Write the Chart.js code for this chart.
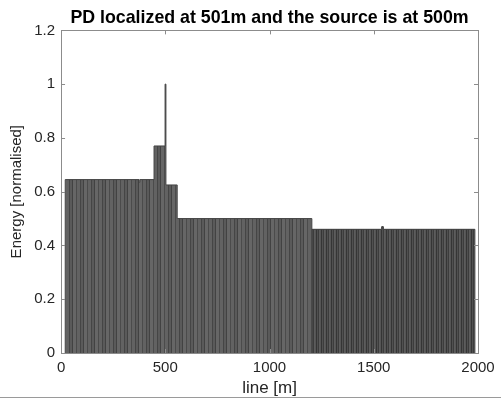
<!DOCTYPE html>
<html>
<head>
<meta charset="utf-8">
<script src="https://cdn.jsdelivr.net/npm/chart.js@4.4.1/dist/chart.umd.min.js"></script>
<style>
  body { margin: 0; background: #fff; }
</style>
</head>
<body>
<canvas id="energy" width="501" height="400"></canvas>
<script>
// step edges along the line [m] and the level that holds from each edge on
const edgesNear = [20, 20, 374, 378, 446, 499, 503, 557, 1203];
const levelsNear = [0, 0.645, 0.635, 0.645, 0.77, 1.0, 0.625, 0.5, 0];
const edgesFar = [1203, 1203, 1538, 1546, 1985];
const levelsFar = [0, 0.46, 0.47, 0.46, 0];
const xTicks = [0, 500, 1000, 1500, 2000];
const yTicks = [0, 0.2, 0.4, 0.6, 0.8, 1, 1.2];

const FONT = "'Liberation Sans', Arial, sans-serif";
const TEXT = "#262626";
const AXIS = "#8c8c8c";

// vertical stripes so the fill reads like many thin MATLAB bars
function stripes(widths, shades) {
  const c = document.createElement("canvas");
  c.width = widths.reduce((a, b) => a + b, 0);
  c.height = 1;
  const g = c.getContext("2d");
  let x = 0;
  widths.forEach((w, i) => {
    g.fillStyle = shades[i];
    g.fillRect(x, 0, w, 1);
    x += w;
  });
  return g.createPattern(c, "repeat");
}

const nearFill = stripes([3, 1, 2, 1, 3, 1], ["#626262", "#454545", "#5a5a5a", "#424242", "#666666", "#4b4b4b"]);
const farFill = stripes([1, 1, 1, 1, 1], ["#555555", "#353535", "#505050", "#3c3c3c", "#5c5c5c"]);

const toPoints = (xs, ys) => xs.map((x, i) => ({ x: x, y: ys[i] }));

const frame = {
  id: "frame",
  afterDatasetsDraw(chart) {
    const { ctx, chartArea: a, scales } = chart;
    ctx.save();
    ctx.strokeStyle = AXIS;
    ctx.lineWidth = 1;
    ctx.strokeRect(Math.round(a.left) + 0.5, Math.round(a.top) + 0.5,
      Math.round(a.right - a.left), Math.round(a.bottom - a.top));
    ctx.beginPath();
    scales.x.ticks.forEach((t) => {
      const px = Math.round(scales.x.getPixelForValue(t.value)) + 0.5;
      ctx.moveTo(px, a.bottom);
      ctx.lineTo(px, a.bottom - 4);
      ctx.moveTo(px, a.top);
      ctx.lineTo(px, a.top + 4);
    });
    scales.y.ticks.forEach((t) => {
      const py = Math.round(scales.y.getPixelForValue(t.value)) + 0.5;
      ctx.moveTo(a.left, py);
      ctx.lineTo(a.left + 4, py);
      ctx.moveTo(a.right, py);
      ctx.lineTo(a.right - 4, py);
    });
    ctx.stroke();
    // the screenshot's own bottom edge
    ctx.strokeStyle = "#9a9a9a";
    ctx.beginPath();
    ctx.moveTo(0, 397.5);
    ctx.lineTo(chart.width, 397.5);
    ctx.stroke();
    ctx.restore();
  },
};

new Chart(document.getElementById("energy"), {
  type: "line",
  data: {
    datasets: [
      {
        data: toPoints(edgesNear, levelsNear),
        stepped: "before",
        fill: "origin",
        backgroundColor: nearFill,
        borderColor: "#444444",
        borderWidth: 1,
        pointRadius: 0,
      },
      {
        data: toPoints(edgesFar, levelsFar),
        stepped: "before",
        fill: "origin",
        backgroundColor: farFill,
        borderColor: "#3a3a3a",
        borderWidth: 1,
        pointRadius: 0,
      },
    ],
  },
  options: {
    responsive: false,
    animation: false,
    layout: { padding: { top: 0, right: 23, bottom: 0, left: 5 } },
    plugins: {
      legend: { display: false },
      tooltip: { enabled: false },
      title: {
        display: true,
        fullSize: false,
        text: "PD localized at 501m and the source is at 500m",
        color: "#000000",
        font: { family: FONT, size: 17.8, weight: "bold" },
        padding: { top: 7, bottom: 2 },
      },
    },
    scales: {
      x: {
        type: "linear",
        min: 0,
        max: 2000,
        afterBuildTicks: (s) => { s.ticks = xTicks.map((v) => ({ value: v })); },
        grid: { display: false, drawTicks: false },
        border: { display: false },
        ticks: {
          color: TEXT,
          font: { family: FONT, size: 15 },
          padding: 6,
          maxRotation: 0,
          callback: (v) => String(v),
        },
        title: {
          display: true,
          text: "line [m]",
          color: TEXT,
          font: { family: FONT, size: 17 },
          padding: { top: -4.7, bottom: 1.3 },
        },
      },
      y: {
        min: 0,
        max: 1.2,
        afterBuildTicks: (s) => { s.ticks = yTicks.map((v) => ({ value: v })); },
        grid: { display: false, drawTicks: false },
        border: { display: false },
        ticks: {
          color: TEXT,
          font: { family: FONT, size: 15 },
          padding: 6,
          callback: (v) => String(Math.round(v * 10) / 10),
        },
        title: {
          display: true,
          text: "Energy [normalised]",
          color: TEXT,
          font: { family: FONT, size: 15 },
          padding: { top: 3, bottom: 2.2 },
        },
      },
    },
  },
  plugins: [frame],
});
</script>
</body>
</html>
